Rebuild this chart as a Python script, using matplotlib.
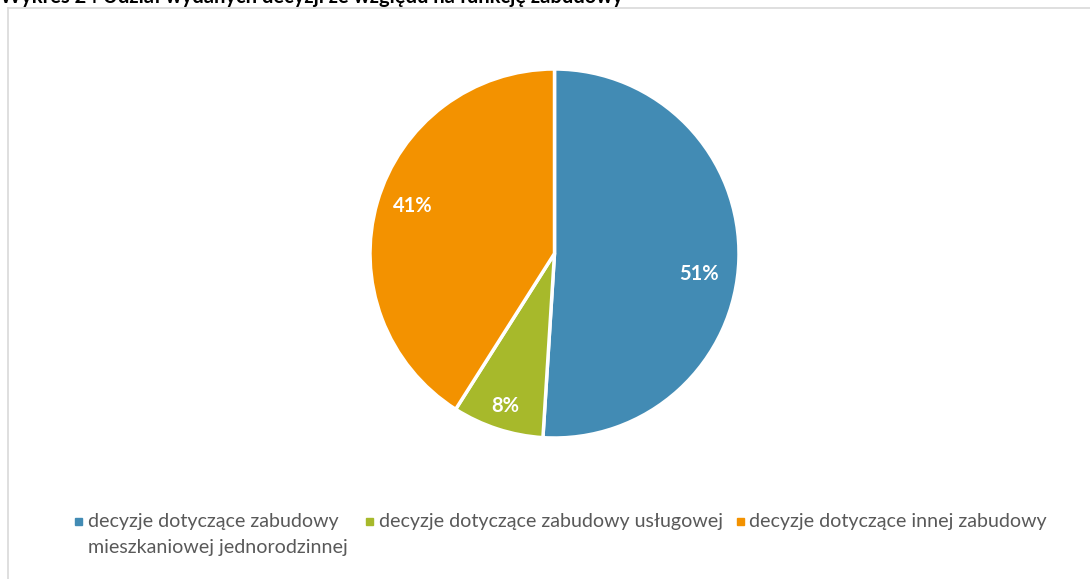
import matplotlib
matplotlib.use("Agg")
import matplotlib.pyplot as plt
from matplotlib.patches import Rectangle
from matplotlib.lines import Line2D
import numpy as np

title = "Wykres 24 Udział wydanych decyzji ze względu na funkcję zabudowy"
categories = ["decyzje dotyczące zabudowy\nmieszkaniowej jednorodzinnej",
              "decyzje dotyczące zabudowy usługowej",
              "decyzje dotyczące innej zabudowy"]
shares = [51, 8, 41]
colors = ["#428BB4", "#A7B92B", "#F39200"]

W, H = 1090, 579
fig = plt.figure(figsize=(W / 100, H / 100), dpi=100)
plt.rcParams['font.family'] = ['Lato', 'DejaVu Sans']

def px(x, y):
    return x / W, 1 - y / H

# frame
fig.add_artist(Line2D([7.5 / W, 7.5 / W], [1 - 7.5 / H, 0], color="#D9D9D9", lw=1.2, transform=fig.transFigure))
fig.add_artist(Line2D([7.5 / W, 1], [1 - 7.5 / H, 1 - 7.5 / H], color="#D9D9D9", lw=1.2, transform=fig.transFigure))

# title (cut at top, as in the reference)
tx, ty = px(0, 3)
fig.text(tx, ty, title, fontsize=14.5, fontweight="bold", color="#000000", va="baseline", ha="left")

# pie
cx, cy, r = 554.5, 253.5, 184.5
ax = fig.add_axes([(cx - r) / W, 1 - (cy + r) / H, 2 * r / W, 2 * r / H])
wedges, _ = ax.pie(shares, colors=colors, startangle=90, counterclock=False,
                   wedgeprops=dict(edgecolor="white", linewidth=2.5))
ax.set_xlim(-1, 1)
ax.set_ylim(-1, 1)
ax.axis("off")

label_dist = [0.79, 0.867, 0.81]
label_shift = [-6.4, 0.0, -2.5]
for w, v, d, s in zip(wedges, shares, label_dist, label_shift):
    ang = np.deg2rad((w.theta1 + w.theta2) / 2 + s)
    ax.text(d * np.cos(ang), d * np.sin(ang), f"{v}%", ha="center", va="center",
            color="white", fontsize=14.5, fontweight="bold")

# legend
marker_x = [75, 366, 737]
text_x = [88, 379, 749]
row_y = 521
for mx, txx, c, lab in zip(marker_x, text_x, colors, categories):
    fig.add_artist(Rectangle(px(mx, row_y + 3.5), 7 / W, 7 / H, color=c, transform=fig.transFigure))
    for i, ln in enumerate(lab.split("\n")):
        x0, y0 = px(txx, row_y + i * 27)
        fig.text(x0, y0, ln, fontsize=14.1, color="#595959", ha="left", va="center")

fig.savefig("out.png", dpi=100)
